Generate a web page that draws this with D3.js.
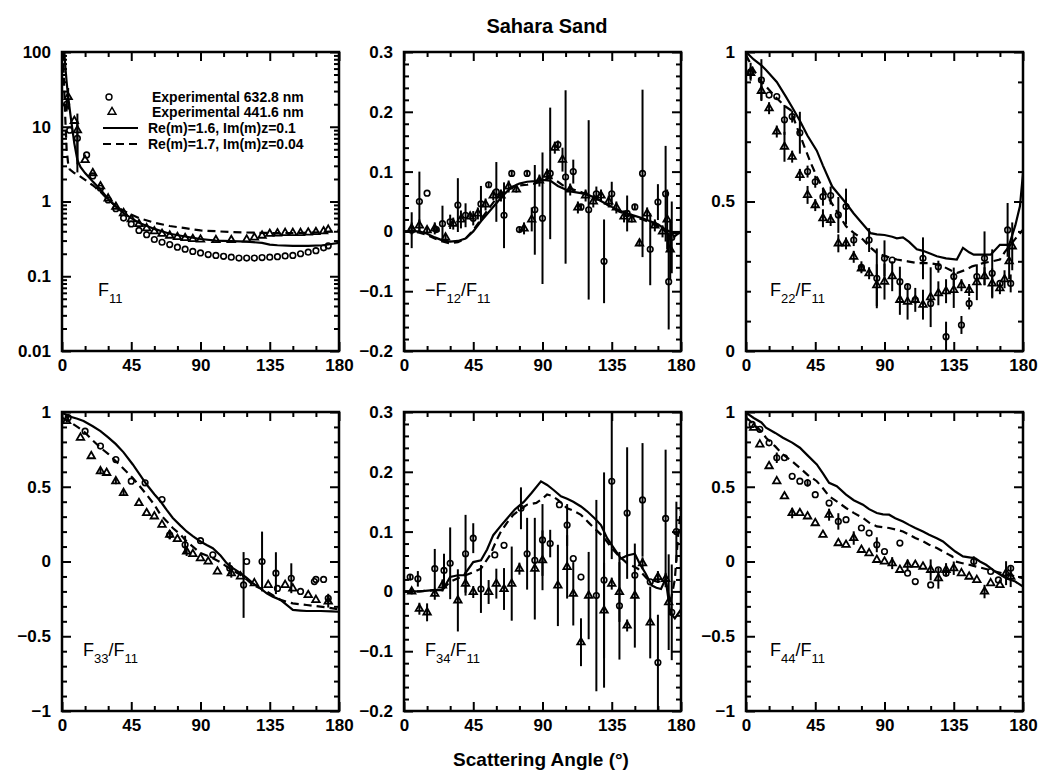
<!DOCTYPE html>
<html><head><meta charset="utf-8">
<script src="https://cdn.jsdelivr.net/npm/d3@7"></script>
<style>
html,body{margin:0;padding:0;background:#fff;}
svg text{font-family:'Liberation Sans',Arial,sans-serif;font-weight:bold;fill:#000;}
</style></head>
<body>
<svg id="chart" width="1040" height="770"></svg>
<script>
// ---------- DATA ----------
const xMajorTicks = [0, 45, 90, 135, 180];
const title = "Sahara Sand";
const xTitle = "Scattering Angle (°)";
const legendLabels = ["Experimental 632.8 nm", "Experimental 441.6 nm", "Re(m)=1.6, Im(m)z=0.1", "Re(m)=1.7, Im(m)z=0.04"];

// F11 (log)
const f11Solid = [[0.5,300],[1,150],[2,70],[3,40],[4,25],[6,12],[8,6],[10,3.6],[12,2.9],[15,2.4],[20,1.85],[25,1.45],[30,1.08],[35,0.85],[40,0.7],[45,0.6],[50,0.52],[60,0.43],[70,0.37],[80,0.34],[90,0.315],[100,0.3],[110,0.295],[120,0.29],[130,0.28],[135,0.265],[140,0.26],[150,0.255],[160,0.255],[170,0.26],[175,0.27],[180,0.28]];
const f11Dashed = [[0.5,150],[1,60],[2,15],[3,5],[4,3.2],[5,2.7],[8,2.4],[10,2.3],[15,1.95],[20,1.65],[25,1.35],[30,1.05],[35,0.88],[40,0.75],[45,0.67],[50,0.6],[60,0.52],[70,0.47],[80,0.44],[90,0.41],[100,0.4],[110,0.39],[120,0.385],[130,0.38],[140,0.378],[150,0.378],[160,0.382],[170,0.39],[175,0.4],[180,0.41]];
const f11Circ = [[3,20,4],[5,9,0],[10,7,5],[16,4.2,0],[20,2.2,0],[25,1.5,0],[30,1.05,0],[35,0.8,0],[40,0.6,0],[45,0.5,0],[50,0.41,0],[55,0.36,0],[60,0.31,0],[65,0.285,0],[70,0.265,0],[75,0.245,0],[80,0.23,0],[85,0.215,0],[90,0.205,0],[95,0.195,0],[100,0.19,0],[105,0.185,0],[110,0.18,0],[115,0.175,0],[120,0.175,0],[125,0.175,0],[130,0.178,0],[135,0.18,0],[140,0.183,0],[145,0.187,0],[150,0.19,0],[155,0.2,0],[160,0.21,0],[165,0.22,0],[170,0.24,0],[173,0.255,0]];
const f11Tri = [[4,25,8],[8,12,0],[10,9,6],[15,3.6,0],[20,2.4,0],[25,1.6,0],[30,1.1,0],[35,0.85,0],[40,0.7,0],[45,0.58,0],[50,0.5,0],[55,0.44,0],[60,0.4,0],[65,0.37,0],[70,0.35,0],[75,0.335,0],[80,0.325,0],[85,0.315,0],[90,0.31,0],[100,0.305,0],[110,0.305,0],[120,0.31,0],[125,0.33,0],[130,0.35,0],[135,0.37,0],[140,0.375,0],[145,0.38,0],[150,0.38,0],[155,0.38,0],[160,0.385,0],[165,0.39,0],[170,0.4,0],[173,0.42,0]];

// -F12/F11
const f12Solid = [[0,0],[5,0],[10,0],[15,-0.004],[20,-0.01],[25,-0.015],[30,-0.017],[35,-0.016],[40,-0.012],[45,0.0],[50,0.017],[55,0.032],[60,0.047],[65,0.062],[70,0.074],[75,0.08],[80,0.083],[85,0.084],[90,0.086],[95,0.085],[100,0.076],[105,0.07],[110,0.066],[115,0.064],[120,0.061],[125,0.055],[130,0.048],[135,0.041],[140,0.035],[145,0.03],[150,0.026],[155,0.022],[160,0.017],[165,0.012],[170,0.003],[175,-0.003],[180,-0.003]];
const f12Dashed = [[0,0],[5,0],[10,-0.002],[15,-0.006],[20,-0.012],[25,-0.017],[30,-0.02],[35,-0.018],[40,-0.012],[45,0.002],[50,0.02],[55,0.038],[60,0.055],[65,0.067],[70,0.074],[75,0.077],[80,0.078],[85,0.08],[90,0.085],[95,0.09],[100,0.083],[105,0.074],[110,0.07],[115,0.066],[120,0.06],[125,0.055],[130,0.048],[135,0.04],[140,0.033],[145,0.028],[150,0.024],[155,0.02],[160,0.015],[165,0.008],[170,0.0],[175,-0.01],[180,0.0]];
const f12Circ = [[5,0.002,0.03],[10,0.05,0.05],[15,0.064,0],[21,0.003,0.005],[25,0.013,0.03],[30,0.016,0.012],[35,0.044,0.045],[40,0.027,0.02],[45,0.022,0.012],[50,0.046,0.03],[55,0.078,0.005],[60,0.066,0.05],[65,0.027,0.055],[70,0.097,0.005],[75,0.003,0.005],[80,0.097,0.004],[85,0.036,0.075],[90,0.022,0.11],[95,0.097,0.11],[100,0.145,0.007],[105,0.091,0.145],[110,0.1,0.02],[115,0.041,0.005],[120,0.036,0.15],[125,0.063,0.012],[130,-0.05,0.07],[135,0.063,0.02],[145,0.03,0.03],[150,0.041,0.005],[155,0.097,0.14],[160,-0.03,0.06],[165,0.049,0.03],[170,0.063,0.08],[172,-0.084,0.08],[174,-0.01,0.06]];
const f12Tri = [[5,0.005,0.01],[10,0.01,0.01],[15,0.002,0.005],[20,0.005,0.01],[27,-0.01,0.005],[32,0.013,0.01],[37,0.02,0.015],[43,0.025,0.005],[48,0.03,0.01],[53,0.045,0.01],[58,0.06,0.008],[63,0.06,0.01],[68,0.075,0.01],[73,0.07,0.005],[78,0.005,0.01],[83,0.02,0.02],[88,0.085,0.01],[93,0.095,0.01],[98,0.14,0.01],[103,0.12,0.02],[108,0.07,0.01],[113,0.04,0.01],[118,0.06,0.01],[123,0.05,0.01],[128,0.06,0.01],[133,0.05,0.01],[138,0.04,0.01],[143,0.025,0.01],[148,0.02,0.005],[153,-0.02,0.005],[158,0.03,0.01],[163,0.01,0.01],[168,0.0,0.01],[171,0.02,0.05],[173,-0.03,0.05]];

// F22/F11
const f22Solid = [[0,1.0],[5,0.975],[10,0.955],[13,0.94],[20,0.9],[26,0.85],[30,0.815],[35,0.77],[40,0.72],[46,0.67],[50,0.62],[56,0.55],[60,0.525],[65,0.494],[70,0.46],[75,0.43],[81,0.394],[85,0.39],[90,0.388],[95,0.382],[98,0.377],[102,0.38],[106,0.365],[111,0.34],[115,0.335],[120,0.325],[124,0.317],[130,0.31],[137,0.306],[141,0.345],[145,0.33],[148,0.322],[155,0.322],[159,0.322],[165,0.355],[171,0.355],[175,0.42],[178,0.484],[180,0.594]];
const f22Dashed = [[0,0.99],[5,0.94],[10,0.9],[13,0.885],[20,0.845],[25,0.82],[29,0.806],[33,0.75],[38,0.683],[42,0.63],[46,0.583],[52,0.525],[57,0.484],[61,0.45],[65,0.417],[70,0.395],[76,0.373],[80,0.35],[85,0.328],[90,0.318],[98,0.306],[105,0.3],[111,0.294],[119,0.294],[124,0.29],[128,0.283],[133,0.27],[137,0.261],[142,0.27],[147,0.283],[154,0.294],[160,0.3],[165,0.306],[168,0.33],[171,0.35],[175,0.375],[180,0.406]];
const f22Circ = [[3,0.934,0.03],[10,0.906,0.07],[15,0.856,0],[20,0.851,0],[25,0.773,0.05],[30,0.784,0.02],[35,0.73,0.07],[40,0.6,0.02],[45,0.566,0.02],[50,0.516,0.03],[55,0.52,0.03],[60,0.455,0.06],[65,0.483,0.06],[70,0.371,0.02],[75,0.28,0.02],[80,0.371,0.04],[85,0.243,0.1],[90,0.31,0.06],[95,0.304,0],[100,0.232,0.05],[105,0.215,0],[110,0.171,0],[115,0.31,0.07],[120,0.159,0],[125,0.282,0.02],[130,0.048,0.05],[135,0.249,0.03],[140,0.087,0.03],[145,0.159,0.02],[150,0.249,0],[155,0.31,0.09],[160,0.26,0.08],[165,0.226,0],[170,0.405,0.09],[172,0.226,0.03]];
const f22Tri = [[3,0.93,0.02],[10,0.87,0.03],[15,0.812,0.02],[20,0.734,0.02],[25,0.683,0.05],[30,0.65,0.02],[35,0.589,0.02],[40,0.522,0.03],[45,0.488,0.02],[50,0.444,0.03],[55,0.438,0.02],[60,0.36,0.03],[65,0.36,0.02],[70,0.315,0.02],[75,0.276,0.01],[80,0.26,0.02],[85,0.22,0.07],[90,0.232,0.06],[95,0.25,0.05],[100,0.171,0.05],[105,0.165,0.06],[110,0.171,0.04],[115,0.155,0.05],[120,0.18,0.1],[125,0.193,0.04],[130,0.2,0.04],[135,0.204,0.06],[140,0.22,0.02],[145,0.204,0.02],[150,0.23,0.06],[155,0.25,0.03],[160,0.226,0.05],[165,0.21,0.02],[168,0.24,0.03],[171,0.3,0.06],[173,0.35,0.08]];

// F33/F11
const f33Solid = [[0,0.995],[5,0.97],[10,0.955],[14,0.94],[20,0.905],[25,0.872],[30,0.83],[35,0.785],[40,0.73],[46,0.649],[50,0.59],[55,0.515],[60,0.45],[64,0.403],[68,0.345],[72,0.291],[77,0.24],[81,0.201],[85,0.17],[90,0.134],[94,0.11],[98,0.089],[103,0.04],[107,-0.011],[111,-0.045],[116,-0.078],[120,-0.11],[124,-0.145],[129,-0.18],[133,-0.213],[137,-0.235],[142,-0.257],[146,-0.29],[150,-0.324],[155,-0.328],[159,-0.331],[168,-0.331],[175,-0.333],[180,-0.336]];
const f33Dashed = [[0,0.962],[5,0.935],[10,0.9],[14,0.872],[20,0.81],[25,0.761],[30,0.72],[35,0.671],[40,0.62],[46,0.559],[50,0.51],[55,0.447],[60,0.38],[64,0.313],[68,0.27],[72,0.224],[77,0.18],[81,0.134],[85,0.1],[90,0.056],[94,0.04],[98,0.022],[103,-0.005],[107,-0.034],[111,-0.06],[116,-0.089],[120,-0.12],[124,-0.157],[129,-0.18],[133,-0.2],[137,-0.225],[142,-0.257],[146,-0.27],[150,-0.28],[155,-0.286],[159,-0.291],[168,-0.302],[176,-0.313],[180,-0.32]];
const f33Circ = [[4,0.962,0.02],[15,0.872,0],[25,0.772,0],[35,0.682,0],[45,0.537,0],[54,0.526,0],[65,0.414,0],[70,0.179,0.03],[80,0.112,0.06],[90,0.139,0],[98,0.045,0],[109,-0.045,0.04],[118,-0.157,0.22],[130,0.0,0.2],[139,-0.078,0.14],[149,-0.112,0.1],[155,-0.2,0],[164,-0.134,0],[173,-0.246,0.03],[120,0.0,0],[140,-0.18,0],[165,-0.12,0],[170,-0.12,0]];
const f33Tri = [[3,0.94,0.01],[12,0.828,0],[19,0.705,0],[25,0.604,0.02],[29,0.593,0],[35,0.537,0.02],[40,0.459,0.02],[50,0.391,0],[55,0.324,0],[60,0.302,0],[65,0.246,0],[70,0.179,0.03],[75,0.15,0],[81,0.067,0.03],[85,0.05,0],[90,0.022,0],[95,0.0,0],[101,-0.067,0],[110,-0.078,0.03],[116,-0.1,0],[125,-0.145,0],[134,-0.157,0],[145,-0.157,0],[150,-0.18,0],[160,-0.224,0],[165,-0.257,0],[173,-0.268,0.04]];

// F34/F11
const f34Solid = [[0,0],[10,0],[19,0.002],[25,0.002],[30,0.024],[35,0.027],[39,0.027],[45,0.049],[50,0.052],[54,0.07],[58,0.094],[63,0.11],[67,0.122],[72,0.137],[78,0.15],[83,0.165],[89,0.184],[93,0.178],[97,0.17],[102,0.159],[106,0.155],[110,0.15],[115,0.142],[119,0.134],[124,0.122],[128,0.111],[132,0.089],[137,0.07],[141,0.055],[145,0.06],[150,0.063],[153,0.047],[157,0.03],[161,0.01],[164,0.006],[167,0.004],[170,0.021],[173,-0.035],[176,-0.045],[180,-0.03]];
const f34Dashed = [[0,0],[10,0],[20,0.002],[25,0.003],[30,0.016],[35,0.022],[40,0.027],[45,0.032],[50,0.038],[56,0.061],[60,0.085],[63,0.1],[67,0.115],[71,0.128],[76,0.138],[80,0.145],[86,0.148],[90,0.155],[93,0.162],[96,0.16],[100,0.153],[106,0.139],[110,0.135],[115,0.128],[120,0.115],[124,0.105],[128,0.095],[132,0.083],[135,0.072],[139,0.061],[145,0.047],[152,0.038],[158,0.021],[165,0.016],[170,0.019],[173,-0.02],[176,0.02],[178,0.09],[180,0.14]];
const f34Circ = [[4,0.024,0.005],[9,0.021,0.013],[20,0.038,0.033],[26,0.035,0.028],[30,0.047,0.06],[40,0.063,0.065],[45,0.089,0.025],[50,0.004,0.04],[59,0.061,0],[65,0.077,0],[76,0.139,0.035],[80,0.063,0.06],[85,0.052,0],[90,0.086,0.06],[95,0.08,0.023],[101,0.145,0],[106,0.111,0.035],[110,0.055,0],[115,0.024,0],[125,-0.007,0.16],[130,0.019,0.18],[135,0.184,0.13],[140,-0.024,0.09],[145,0.131,0.11],[150,0.027,0],[155,0.153,0.095],[160,0.016,0],[165,-0.119,0.08],[170,0.122,0.115],[174,-0.035,0.08],[177,0.1,0.05]];
const f34Tri = [[5,0.0,0.005],[10,-0.029,0.01],[15,-0.035,0.015],[20,-0.004,0.01],[25,0.01,0.01],[35,-0.015,0.052],[40,0.013,0.02],[45,-0.001,0.01],[55,-0.001,0.02],[60,0.013,0.025],[65,0.004,0.035],[70,0.013,0.062],[75,0.038,0.01],[85,0.038,0.085],[90,0.052,0.05],[100,0.01,0.068],[106,0.041,0.053],[110,-0.004,0.053],[115,-0.085,0.04],[120,-0.007,0.073],[130,-0.032,0.08],[135,0.013,0.01],[140,-0.001,0.05],[145,-0.057,0.01],[150,-0.007,0.087],[155,0.047,0.01],[160,-0.052,0.06],[165,0.024,0.01],[170,0.021,0.01],[172,-0.018,0.08]];

// F44/F11
const f44Solid = [[0,0.996],[5,0.96],[10,0.93],[13,0.895],[19,0.86],[24,0.828],[30,0.795],[35,0.761],[40,0.71],[46,0.649],[50,0.59],[54,0.526],[59,0.503],[65,0.447],[70,0.41],[76,0.38],[80,0.35],[85,0.324],[89,0.315],[93,0.313],[97,0.29],[102,0.268],[106,0.245],[110,0.224],[115,0.2],[119,0.179],[124,0.155],[128,0.134],[132,0.1],[136,0.067],[141,0.034],[145,0.028],[149,0.022],[152,0.0],[156,-0.022],[162,-0.067],[169,-0.112],[175,-0.134],[180,-0.168]];
const f44Dashed = [[0,0.962],[5,0.92],[10,0.87],[13,0.828],[19,0.77],[24,0.716],[30,0.67],[35,0.626],[40,0.58],[46,0.537],[50,0.49],[54,0.436],[60,0.395],[65,0.358],[70,0.325],[76,0.291],[80,0.26],[85,0.235],[93,0.224],[97,0.215],[102,0.201],[106,0.18],[110,0.157],[115,0.135],[119,0.112],[124,0.09],[128,0.067],[134,0.034],[136,0.0],[140,-0.01],[145,-0.022],[150,-0.035],[154,-0.045],[162,-0.067],[171,-0.089],[180,-0.112]];
const f44Circ = [[4,0.917,0],[9,0.884,0],[15,0.794,0],[20,0.694,0.035],[25,0.694,0],[30,0.57,0],[35,0.537,0],[40,0.526,0.025],[45,0.447,0],[54,0.391,0],[60,0.268,0.055],[65,0.28,0],[75,0.224,0],[80,0.19,0],[85,0.112,0.05],[90,0.067,0],[100,0.123,0],[105,-0.078,0],[110,-0.134,0],[120,-0.157,0],[125,-0.056,0],[130,-0.078,0],[148,0.0,0.035],[159,-0.067,0],[164,-0.123,0],[172,-0.045,0]];
const f44Tri = [[5,0.895,0],[9,0.783,0],[15,0.638,0],[20,0.537,0],[25,0.436,0],[30,0.324,0.035],[35,0.324,0],[40,0.302,0],[45,0.257,0],[50,0.179,0],[54,0.313,0.04],[60,0.123,0],[65,0.112,0],[70,0.157,0.045],[75,0.078,0],[80,0.056,0],[85,0.011,0],[90,0.0,0],[95,-0.011,0.04],[100,-0.056,0],[105,-0.022,0.035],[110,-0.022,0],[115,-0.034,0],[120,-0.056,0.07],[125,-0.112,0.07],[130,-0.056,0.045],[135,-0.045,0.045],[140,-0.078,0],[145,-0.101,0],[150,-0.123,0],[155,-0.201,0.045],[159,-0.145,0],[165,-0.157,0],[169,-0.078,0.08],[172,-0.101,0.07]];

// ---------- PANELS ----------
const panels = [
  {col:0,row:0,log:true, dom:[0.01,100], labels:[0.01,0.1,1,10,100], minorStep:null,
   name:[["F",""],["11","sub"]], solid:f11Solid, dashed:f11Dashed, circ:f11Circ, tri:f11Tri, lx:36},
  {col:1,row:0,log:false,dom:[-0.2,0.3], labels:[-0.2,-0.1,0,0.1,0.2,0.3], minorStep:0.02,
   name:[["−F",""],["12","sub"],["/F",""],["11","sub"]], solid:f12Solid, dashed:f12Dashed, circ:f12Circ, tri:f12Tri, lx:21},
  {col:2,row:0,log:false,dom:[0,1], labels:[0,0.5,1], minorStep:0.1,
   name:[["F",""],["22","sub"],["/F",""],["11","sub"]], solid:f22Solid, dashed:f22Dashed, circ:f22Circ, tri:f22Tri, lx:24},
  {col:0,row:1,log:false,dom:[-1,1], labels:[-1,-0.5,0,0.5,1], minorStep:0.1,
   name:[["F",""],["33","sub"],["/F",""],["11","sub"]], solid:f33Solid, dashed:f33Dashed, circ:f33Circ, tri:f33Tri, lx:21},
  {col:1,row:1,log:false,dom:[-0.2,0.3], labels:[-0.2,-0.1,0,0.1,0.2,0.3], minorStep:0.02,
   name:[["F",""],["34","sub"],["/F",""],["11","sub"]], solid:f34Solid, dashed:f34Dashed, circ:f34Circ, tri:f34Tri, lx:21},
  {col:2,row:1,log:false,dom:[-1,1], labels:[-1,-0.5,0,0.5,1], minorStep:0.1,
   name:[["F",""],["44","sub"],["/F",""],["11","sub"]], solid:f44Solid, dashed:f44Dashed, circ:f44Circ, tri:f44Tri, lx:24}
];

const colX = [62, 404, 746];
const rowY = [52, 412];
const PW = 277, PH = 299;

const svg = d3.select("#chart");
const fmt = v => v < 0 ? "−" + Math.abs(v) : String(v);

svg.append("text").attr("x", 547).attr("y", 33).attr("text-anchor","middle")
  .style("font-size","20px").text(title);
svg.append("text").attr("x", 541).attr("y", 766).attr("text-anchor","middle")
  .style("font-size","19px").text(xTitle);

panels.forEach((p, i) => {
  const g = svg.append("g").attr("transform", `translate(${colX[p.col]},${rowY[p.row]})`);
  const x = d3.scaleLinear().domain([0,180]).range([0,PW]);
  const y = p.log ? d3.scaleLog().domain(p.dom).range([PH,0]) : d3.scaleLinear().domain(p.dom).range([PH,0]);

  const xMinor = d3.range(0, 181, 15).filter(v => v % 45 !== 0);
  let yMinor;
  if (p.log) {
    yMinor = [];
    [0.01,0.1,1,10].forEach(d => { for (let k=2;k<=9;k++) yMinor.push(d*k); });
  } else {
    const n = Math.round((p.dom[1]-p.dom[0])/p.minorStep);
    yMinor = d3.range(0, n+1).map(k => +(p.dom[0] + k*p.minorStep).toFixed(4))
      .filter(v => !p.labels.some(l => Math.abs(l - v) < 1e-6));
  }

  const styleAxis = sel => {
    sel.select(".domain").remove();
    sel.selectAll(".tick line").attr("stroke","#000").attr("stroke-width",2);
    sel.selectAll(".tick text").style("font-size","17px").style("font-family","'Liberation Sans',Arial,sans-serif").style("font-weight","bold").attr("fill","#000");
  };
  // bottom
  g.append("g").attr("transform",`translate(0,${PH})`).call(d3.axisBottom(x).tickValues(xMajorTicks).tickSize(-9).tickPadding(8).tickFormat(fmt)).call(styleAxis);
  g.append("g").attr("transform",`translate(0,${PH})`).call(d3.axisBottom(x).tickValues(xMinor).tickSize(-5).tickFormat("")).call(styleAxis);
  // top
  g.append("g").call(d3.axisTop(x).tickValues(xMajorTicks).tickSize(-9).tickFormat("")).call(styleAxis);
  g.append("g").call(d3.axisTop(x).tickValues(xMinor).tickSize(-5).tickFormat("")).call(styleAxis);
  // left
  g.append("g").call(d3.axisLeft(y).tickValues(p.labels).tickSize(-9).tickPadding(11).tickFormat(fmt)).call(styleAxis);
  g.append("g").call(d3.axisLeft(y).tickValues(yMinor).tickSize(-5).tickFormat("")).call(styleAxis);
  // right
  g.append("g").attr("transform",`translate(${PW},0)`).call(d3.axisRight(y).tickValues(p.labels).tickSize(-9).tickFormat("")).call(styleAxis);
  g.append("g").attr("transform",`translate(${PW},0)`).call(d3.axisRight(y).tickValues(yMinor).tickSize(-5).tickFormat("")).call(styleAxis);

  // clip
  const cid = "clip" + i;
  g.append("clipPath").attr("id", cid).append("rect").attr("x",0).attr("y",0).attr("width",PW).attr("height",PH);
  const inner = g.append("g").attr("clip-path", `url(#${cid})`);

  const line = d3.line().x(d => x(d[0])).y(d => y(d[1]));
  inner.append("path").datum(p.solid).attr("d", line).attr("fill","none").attr("stroke","#000").attr("stroke-width",2.2);
  inner.append("path").datum(p.dashed).attr("d", line).attr("fill","none").attr("stroke","#000").attr("stroke-width",2.2).attr("stroke-dasharray","8,5");

  const lo = d => p.log ? Math.max(d[1]-d[2], d[1]*0.35) : d[1]-d[2];
  [p.circ, p.tri].forEach(series => {
    inner.selectAll(null).data(series.filter(d => d[2] > 0)).enter().append("line")
      .attr("x1", d => x(d[0])).attr("x2", d => x(d[0]))
      .attr("y1", d => y(lo(d))).attr("y2", d => y(d[1]+d[2]))
      .attr("stroke","#000").attr("stroke-width",2);
  });
  inner.selectAll(null).data(p.circ).enter().append("circle")
    .attr("cx", d => x(d[0])).attr("cy", d => y(d[1])).attr("r", 2.8)
    .attr("fill","none").attr("stroke","#000").attr("stroke-width",1.6);
  const tri = d3.symbol().type(d3.symbolTriangle).size(24);
  inner.selectAll(null).data(p.tri).enter().append("path")
    .attr("transform", d => `translate(${x(d[0])},${y(d[1])})`).attr("d", tri)
    .attr("fill","none").attr("stroke","#000").attr("stroke-width",1.8);

  // frame
  g.append("rect").attr("x",0).attr("y",0).attr("width",PW).attr("height",PH)
    .attr("fill","none").attr("stroke","#000").attr("stroke-width",2.5);

  // panel label
  const t = g.append("text").attr("x", p.lx).attr("y", PH - 55).style("font-size","18px").style("font-weight","normal");
  p.name.forEach(([s, kind]) => {
    const ts = t.append("tspan").text(s);
    if (kind === "sub") ts.attr("dy", 7).style("font-size","13px");
    else ts.attr("dy", (t.selectAll("tspan").size() > 1) ? -7 : 0);
  });
});

// legend (panel 1)
const lg = svg.append("g").attr("transform","translate(62,52)");
const rows = [45, 60, 76, 92];
lg.append("circle").attr("cx", 47).attr("cy", rows[0]).attr("r", 3).attr("fill","none").attr("stroke","#000").attr("stroke-width",1.4);
lg.append("path").attr("transform",`translate(50,${rows[1]})`).attr("d", d3.symbol().type(d3.symbolTriangle).size(28)).attr("fill","none").attr("stroke","#000").attr("stroke-width",1.4);
lg.append("line").attr("x1",41).attr("x2",76).attr("y1",rows[2]).attr("y2",rows[2]).attr("stroke","#000").attr("stroke-width",2.2);
lg.append("line").attr("x1",41).attr("x2",76).attr("y1",rows[3]).attr("y2",rows[3]).attr("stroke","#000").attr("stroke-width",2.2).attr("stroke-dasharray","8,5");
legendLabels.forEach((s, k) => {
  lg.append("text").attr("x", k < 2 ? 90 : 86).attr("y", rows[k] + 5).style("font-size","14px").text(s);
});
</script>
</body></html>
